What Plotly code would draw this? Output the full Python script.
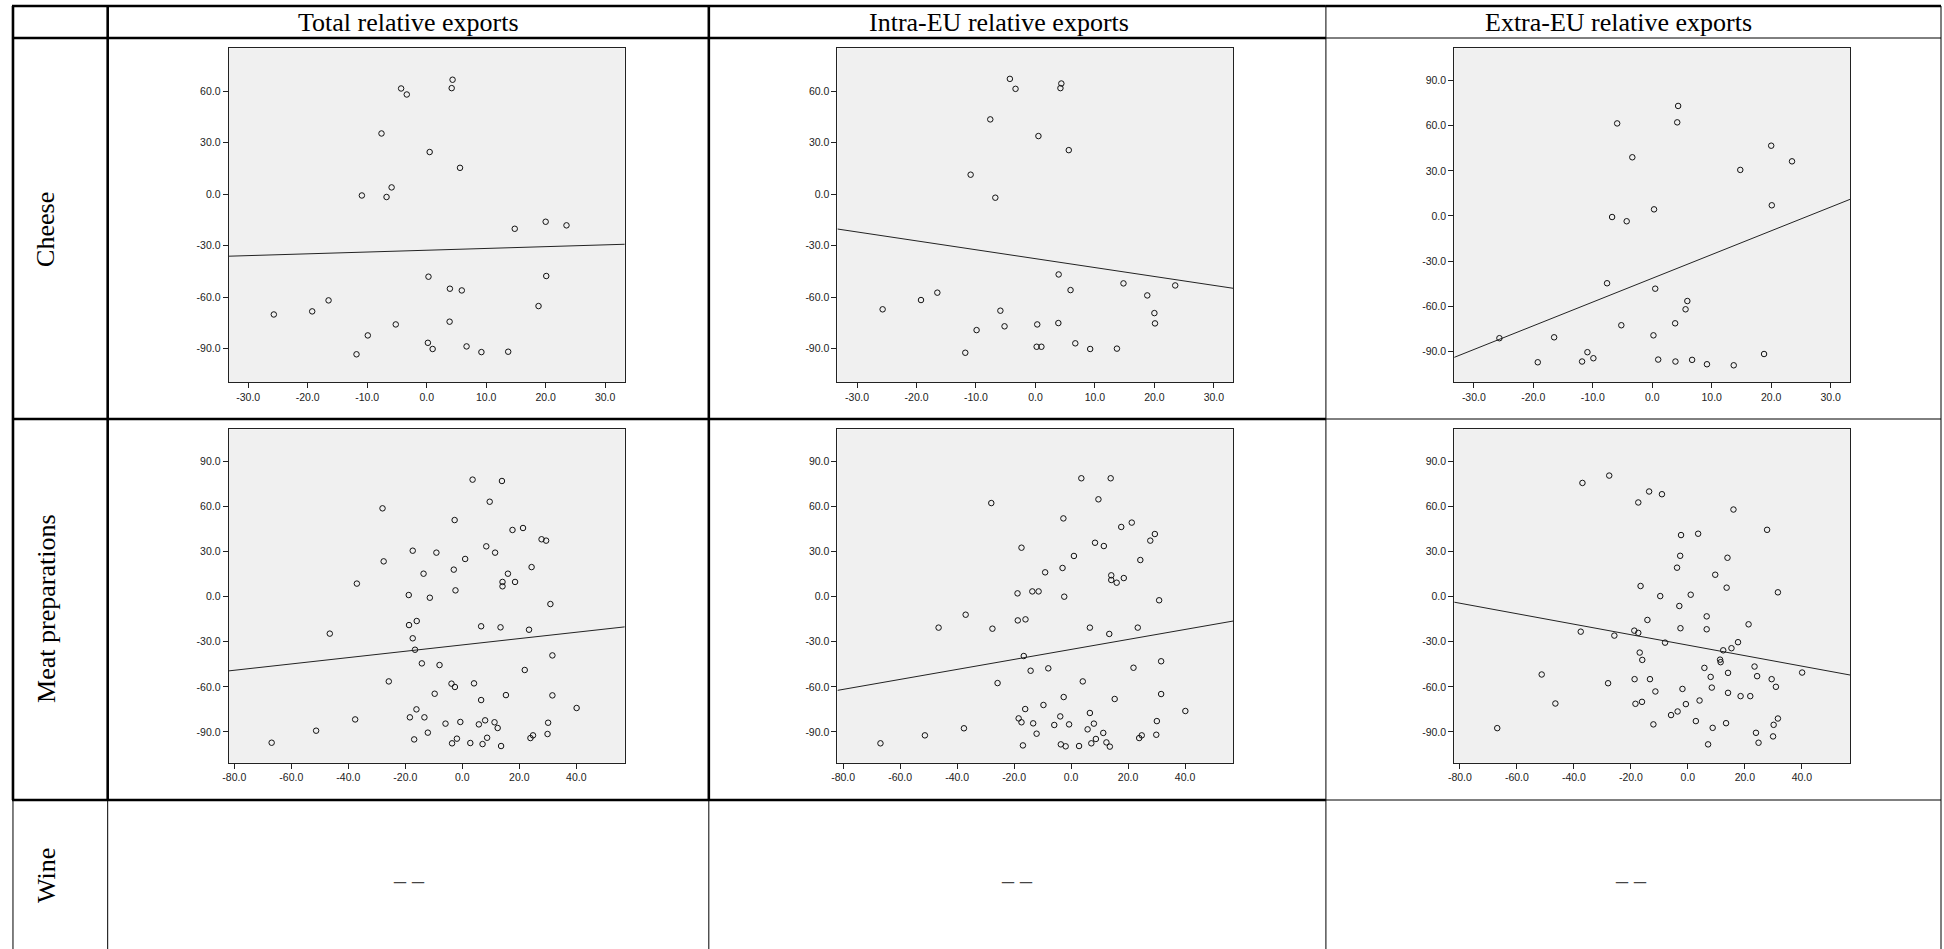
import numpy as np
import plotly.graph_objects as go

W, H = 1944, 949

# ---------------- text ----------------
col_titles = ["Total relative exports", "Intra-EU relative exports", "Extra-EU relative exports"]
row_titles = ["Cheese", "Meat preparations", "Wine"]
missing_mark = "\u2013 \u2013"

# ---------------- data: cheese (30 countries) ----------------
cheese_x = [-25.7, -19.25, -16.5, -11.8, -10.9, -9.9, -7.6, -6.75, -5.9, -5.2,
            -4.3, -3.35, 0.2, 0.3, 0.5, 1.0, 3.85, 3.9, 4.2, 4.35,
            5.6, 5.9, 6.7, 9.2, 13.7, 14.8, 18.8, 20.0, 20.1, 23.5]
cheese_total = [-70.1, -68.3, -61.9, -93.3, -0.8, -82.3, 35.3, -1.7, 3.9, -75.9,
                61.5, 58.0, -86.6, -48.1, 24.5, -90.2, -74.3, -55.1, 61.7, 66.6,
                15.3, -56.1, -88.7, -92.0, -91.8, -20.2, -65.2, -16.1, -47.7, -18.2]
cheese_intra = [-67.1, -61.7, -57.4, -92.4, 11.3, -79.2, 43.5, -2.1, -67.9, -77.0,
                67.1, 61.3, -88.9, -75.9, 33.8, -88.9, -75.1, -46.8, 61.7, 64.4,
                25.6, -55.9, -86.9, -90.2, -90.0, -52.0, -59.0, -69.3, -75.3, -53.2]
cheese_extra = [-81.2, -97.2, -80.6, -96.7, -90.5, -94.5, -44.7, -0.7, 61.5, -72.6,
                -3.5, 39.0, -79.3, 4.4, -48.3, -95.4, -71.3, -96.7, 62.2, 73.1,
                -62.0, -56.5, -95.6, -98.5, -99.2, 30.6, -91.7, 46.7, 7.1, 36.3]

# ---------------- data: meat preparations (72 countries) ----------------
meat_x = [-66.9, -51.3, -46.5, -37.6, -37.0, -28.0, -27.6, -25.8, -18.8, -18.7,
          -18.4, -17.4, -17.4, -16.9, -16.6, -16.0, -16.1, -14.2, -13.6, -13.3,
          -12.1, -11.4, -9.7, -9.1, -8.0, -5.9, -3.8, -3.6, -3.0, -2.7,
          -2.6, -2.4, -1.9, -0.7, 1.0, 2.8, 3.6, 4.1, 5.8, 6.6,
          6.6, 7.1, 8.0, 8.4, 8.7, 9.6, 11.3, 11.5, 12.4, 13.4,
          13.6, 13.9, 14.1, 14.1, 15.3, 16.0, 17.6, 18.5, 21.3, 21.9,
          23.4, 23.9, 24.3, 24.8, 27.8, 29.4, 29.9, 30.1, 30.9, 31.6,
          31.6, 40.1]
meat_total = [-97.2, -89.2, -24.6, -81.7, 8.7, 58.8, 23.5, -56.4, 1.1, -18.9,
              -80.3, 30.6, -27.7, -95.0, -35.3, -16.2, -75.0, -44.4, 15.3, -80.3,
              -90.5, -0.7, -64.6, 29.3, -45.5, -84.5, -57.9, -97.6, 18.0, 51.0,
              -60.1, 4.2, -94.5, -83.4, 25.1, -97.4, 77.9, -57.7, -85.0, -19.7,
              -68.8, -98.1, -82.3, 33.5, -93.9, 63.2, -83.6, 29.3, -87.4, -20.4,
              -99.4, 77.0, 9.8, 6.9, -65.5, 15.3, 44.4, 9.8, 45.7, -48.8,
              -22.0, -94.1, 19.7, -92.3, 38.2, 37.3, -91.4, -83.9, -4.9, -39.1,
              -65.7, -74.1]
meat_intra = [-97.6, -92.3, -20.6, -87.6, -12.0, 62.3, -21.3, -57.5, 2.2, -15.8,
              -81.0, 32.6, -83.6, -99.0, -39.5, -15.1, -74.8, -49.3, 3.5, -84.3,
              -91.2, 3.5, -72.1, 16.2, -47.7, -85.4, -79.7, -98.3, 19.1, 52.1,
              -66.8, 0.0, -99.6, -85.0, 27.1, -99.4, 78.8, -56.4, -88.3, -20.6,
              -77.4, -97.6, -84.5, 35.9, -94.7, 64.8, -90.7, 33.7, -97.0, -24.8,
              -99.8, 78.8, 14.2, 11.1, -68.1, 9.3, 46.4, 12.4, 49.3, -47.3,
              -20.6, -94.1, 24.4, -92.3, 37.3, 41.7, -91.9, -82.8, -2.4, -43.0,
              -64.8, -76.1]
meat_extra = [-87.5, -51.8, -71.1, -23.3, 75.7, -57.6, 80.6, -25.9, -22.6, -54.9,
              -71.3, 62.7, -24.1, -37.2, 7.1, -42.1, -70.0, -15.5, 70.0, -54.9,
              -85.0, -63.1, 0.4, 68.2, -30.6, -78.8, 19.3, -76.4, -6.2, 27.2,
              -21.0, 41.0, -61.4, -71.5, 1.3, -82.8, 41.9, -69.1, -47.4, -13.1,
              -21.7, -98.3, -53.4, -60.5, -87.3, 14.6, -41.9, -43.6, -35.7, -84.2,
              6.0, 25.9, -50.7, -64.0, -34.3, 58.0, -30.3, -66.2, -18.4, -66.2,
              -46.5, -90.6, -52.9, -97.2, 44.5, -54.9, -93.0, -85.3, -60.0, -81.1,
              2.9, -50.5]

# ---------------- tick labels ----------------
cheese_xticks = [-30, -20, -10, 0, 10, 20, 30]
meat_xticks = [-80, -60, -40, -20, 0, 20, 40]
yticks_short = [-90, -60, -30, 0, 30, 60]
yticks_full = [-90, -60, -30, 0, 30, 60, 90]

# ---------------- layout geometry (pixels) ----------------
cheese_xrange = [-33.3, 33.3]
meat_xrange = [-82.0, 57.0]
yrange_short = [-109.6, 84.9]
yrange_full = [-110.5, 111.4]

col_px = [(223.3, 620.7), (834.0, 1231.3), (1452.7, 1850.0)]
row_px = [(48.3, 382.3), (429.3, 762.7)]

panels = [
    # row, col, x, y, xrange, yrange, xticks, yticks
    (0, 0, cheese_x, cheese_total, cheese_xrange, yrange_short, cheese_xticks, yticks_short),
    (0, 1, cheese_x, cheese_intra, cheese_xrange, yrange_short, cheese_xticks, yticks_short),
    (0, 2, cheese_x, cheese_extra, cheese_xrange, yrange_full, cheese_xticks, yticks_full),
    (1, 0, meat_x, meat_total, meat_xrange, yrange_full, meat_xticks, yticks_full),
    (1, 1, meat_x, meat_intra, meat_xrange, yrange_full, meat_xticks, yticks_full),
    (1, 2, meat_x, meat_extra, meat_xrange, yrange_full, meat_xticks, yticks_full),
]

fig = go.Figure()
layout_axes = {}
tick_font = dict(family="Liberation Sans, Arial, sans-serif", size=10.5, color="#222222")

for i, (r, c, xs, ys, xr, yr, xt, yt) in enumerate(panels, start=1):
    xname = "x" if i == 1 else f"x{i}"
    yname = "y" if i == 1 else f"y{i}"
    x0, x1 = col_px[c]
    y0, y1 = row_px[r]
    layout_axes["xaxis" if i == 1 else f"xaxis{i}"] = dict(
        domain=[x0 / W, x1 / W], range=xr, anchor=yname,
        tickvals=xt, ticktext=[f"{v:.1f}" for v in xt],
        ticks="outside", ticklen=5, tickwidth=1, tickcolor="#222222",
        showline=True, linecolor="#222222", linewidth=1, mirror=True,
        showgrid=False, zeroline=False, tickfont=tick_font, fixedrange=True)
    layout_axes["yaxis" if i == 1 else f"yaxis{i}"] = dict(
        domain=[1 - y1 / H, 1 - y0 / H], range=yr, anchor=xname,
        tickvals=yt, ticktext=[f"{v:.1f}" for v in yt],
        ticks="outside", ticklen=5, tickwidth=1, tickcolor="#222222",
        showline=True, linecolor="#222222", linewidth=1, mirror=True,
        showgrid=False, zeroline=False, tickfont=tick_font, fixedrange=True)

    fig.add_trace(go.Scatter(
        x=xs, y=ys, mode="markers", xaxis=xname, yaxis=yname, showlegend=False,
        marker=dict(symbol="circle-open", size=5.5, color="#111111", line=dict(width=1))))
    coef = np.polyfit(np.array(xs), np.array(ys), 1)
    fx = np.array(xr)
    fig.add_trace(go.Scatter(
        x=fx, y=np.polyval(coef, fx), mode="lines", xaxis=xname, yaxis=yname,
        showlegend=False, line=dict(color="#222222", width=1)))

# ---------------- table rules ----------------
shapes = []
def hline(py, px0, px1, w):
    shapes.append(dict(type="line", xref="paper", yref="paper",
                       x0=px0 / W, x1=px1 / W, y0=1 - py / H, y1=1 - py / H,
                       line=dict(color="black", width=w)))
def vline(px, py0, py1, w):
    shapes.append(dict(type="line", xref="paper", yref="paper",
                       x0=px / W, x1=px / W, y0=1 - py0 / H, y1=1 - py1 / H,
                       line=dict(color="black", width=w)))

thick, thin = 2.6, 1.0
left_b, c1, c2, c3, right_b = 7, 102, 705, 1324, 1941
top_b, head_b, r1, r2 = 6, 38, 419, 800
for py in (top_b, head_b, r1, r2):
    hline(py, left_b - 1, c3, thick)
    hline(py, c3, right_b, thin if py != top_b else thick)
for px in (left_b, c1, c2):
    vline(px, top_b, r2, thick)
    vline(px, r2, H, thin)
vline(c3, top_b, H, thin)
vline(right_b, top_b, H, thin)

# ---------------- annotations ----------------
serif = "Liberation Serif, Times New Roman, serif"
annotations = []
header_cx = [404, 996, 1617]
for t, cx in zip(col_titles, header_cx):
    annotations.append(dict(text=t, x=cx / W, y=1 - 22 / H, xref="paper", yref="paper",
                            xanchor="center", yanchor="middle", showarrow=False,
                            font=dict(family=serif, size=26, color="black")))
row_cy = [229, 609, 875]
for t, cy in zip(row_titles, row_cy):
    annotations.append(dict(text=t, x=40 / W, y=1 - cy / H, xref="paper", yref="paper",
                            xanchor="center", yanchor="middle", showarrow=False, textangle=-90,
                            font=dict(family=serif, size=26, color="black")))
for cx in (404, 1014, 1630):
    annotations.append(dict(text=missing_mark, x=cx / W, y=1 - 880 / H, xref="paper", yref="paper",
                            xanchor="center", yanchor="middle", showarrow=False,
                            font=dict(family=serif, size=24, color="#444444")))

fig.update_layout(
    width=W, height=H, margin=dict(l=0, r=0, t=0, b=0),
    paper_bgcolor="white", plot_bgcolor="#F0F0F0",
    shapes=shapes, annotations=annotations, **layout_axes)

fig.write_html("out.html")
